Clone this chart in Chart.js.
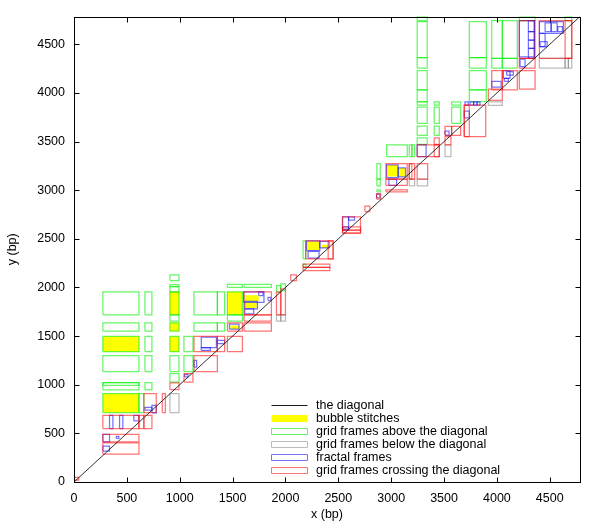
<!DOCTYPE html>
<html><head><meta charset="utf-8">
<script src="https://cdn.jsdelivr.net/npm/chart.js@4.4.1/dist/chart.umd.min.js"></script>
<style>html,body{margin:0;padding:0;background:#fff}#wrap{width:600px;height:522px;position:relative}</style>
</head><body><div id="wrap"><canvas id="c" width="600" height="522"></canvas></div>
<script>
// ---------- data (bp) : each rectangle is [x1, x2, y1, y2] ----------
const axisMax = 4786;
const tickValues = [0, 500, 1000, 1500, 2000, 2500, 3000, 3500, 4000, 4500];
const diagonalLine = [[0, 0], [4786, 4786]];

const bubbleStitches = [
  [273,614,1340,1496],[273,614,714,909],[907,993,1719,1955],[907,993,1551,1637],
  [907,993,1340,1496],[1451,1593,1719,1955],[1615,1747,1858,1920],[1621,1728,1787,1848],
  [1479,1561,1571,1609],[2205,2318,2385,2473],[2341,2404,2406,2440],
  [2966,3066,3140,3260],[3066,3130,3140,3229]
];

const gridAbove = [
  [273,614,1719,1955],[671,737,1719,1955],[1135,1356,1719,1955],[1356,1425,1719,1955],
  [273,614,1551,1637],[671,737,1551,1637],[1135,1356,1551,1637],[1356,1425,1551,1637],
  [273,614,1340,1496],[671,737,1340,1496],[1040,1125,1340,1496],
  [273,614,1135,1299],[671,737,1135,1299],[907,993,1135,1299],[1040,1125,1135,1299],
  [907,993,1028,1114],
  [273,614,946,1022],[273,614,994,1022],[671,737,946,1022],
  [273,614,714,909],[614,661,714,909],
  [907,993,2071,2129],[907,993,2009,2030],[907,993,1955,2009],
  [907,993,1719,1955],[907,993,1653,1719],[907,993,1551,1637],[907,993,1340,1496],
  [1451,1593,2002,2033],[1451,1593,1719,1955],[1451,1593,1653,1719],
  [1608,1867,2002,2033],
  [1915,1956,1955,2020],[1956,2000,1968,2037],
  [2167,2192,2293,2480],[2167,2192,2207,2241],
  [2865,2897,3113,3273],[2865,2897,3044,3113],[2865,2897,2983,3003],
  [2957,3152,3345,3465],[3171,3196,3345,3465],[3196,3222,3345,3465],
  [3246,3341,4743,4786],[3246,3341,4363,4733],[3246,3341,4254,4363],[3246,3341,4031,4230],
  [3246,3341,3912,4031],[3246,3341,3874,3908],[3246,3341,3687,3854],[3246,3341,3564,3659],
  [3246,3341,3470,3539],
  [3407,3455,3874,3908],[3407,3455,3687,3854],[3407,3455,3564,3659],
  [3572,3657,3874,3908],[3572,3657,3687,3854],
  [3739,3900,4363,4733],[3739,3900,4254,4363],[3739,3900,4031,4230],[3739,3900,3912,4031],
  [3951,4051,4356,4743],[3951,4051,4254,4356],
  [4051,4193,4356,4743],[4051,4193,4254,4356],
  [4212,4361,4743,4786],[4645,4708,4743,4786]
];

const gridBelow = [
  [907,993,714,909],
  [1915,1956,1653,1719],[1956,2000,1653,1719],
  [3171,3222,3044,3113],[3246,3345,3044,3113],
  [3509,3565,3345,3465],
  [3919,4051,3871,3908],
  [4402,4645,4254,4356],[4645,4676,4254,4356],[4676,4708,4254,4356]
];

const fractalFrames = [
  [336,368,550,684],[431,462,550,684],[566,614,628,684],
  [273,336,413,489],[400,424,448,468],[273,336,318,369],
  [671,737,738,766],[737,778,710,789],
  [1046,1078,1080,1107],[1135,1160,1182,1250],
  [1204,1347,1381,1489],[1204,1290,1353,1381],[1356,1425,1422,1455],
  [1470,1561,1571,1623],
  [1605,1797,1848,1955],[1615,1735,1780,1858],[1615,1700,1729,1780],[1747,1788,1917,1955],[1835,1861,1866,1899],
  [2199,2325,2378,2480],[2325,2413,2406,2473],[2214,2318,2303,2371],
  [2597,2653,2693,2727],[2540,2597,2600,2727],[2540,2597,2590,2624],
  [2862,2893,2920,2959],
  [2957,3066,3129,3260],[3066,3136,3137,3229],[2978,3051,3051,3113],
  [3246,3330,3345,3465],
  [3509,3547,3564,3608],
  [3691,3739,3744,3813],[3698,3729,3871,3908],[3745,3780,3874,3908],[3780,3812,3874,3908],[3812,3840,3874,3908],
  [3951,4040,4059,4120],[4061,4124,4151,4230],[4092,4155,4182,4220],[4070,4108,4120,4151],
  [4298,4354,4630,4743],[4298,4354,4544,4630],[4298,4354,4459,4544],[4298,4354,4356,4459],[4212,4354,4370,4743],
  [4219,4266,4271,4349],
  [4402,4629,4612,4733],[4456,4513,4630,4720],[4513,4570,4630,4720],[4576,4620,4630,4681],
  [4402,4456,4476,4612],[4408,4475,4476,4527]
];

const gridCrossing = [
  [0,45,20,48],
  [273,614,287,403],[273,614,413,489],[273,614,550,684],[614,661,550,684],[661,737,550,684],
  [661,778,714,909],[835,864,714,909],
  [907,993,950,1018],
  [1040,1125,1028,1114],
  [1135,1356,1340,1496],[1356,1425,1340,1496],[1135,1356,1135,1299],
  [1451,1593,1340,1496],[1451,1593,1551,1637],
  [1608,1867,1551,1637],[1608,1867,1653,1719],[1608,1867,1719,1955],
  [1915,1956,1719,1951],[1956,2000,1719,1985],
  [2050,2104,2071,2129],
  [2192,2451,2293,2480],[2404,2451,2293,2480],
  [2167,2420,2207,2241],[2167,2420,2173,2207],
  [2540,2710,2559,2727],[2540,2710,2590,2624],[2540,2710,2559,2590],
  [2751,2798,2781,2836],
  [2862,2900,2908,2965],
  [2950,3152,3113,3273],[2950,3152,3051,3113],[2950,3152,2983,3003],
  [3171,3222,3113,3273],[3171,3196,3113,3273],
  [3246,3345,3113,3273],
  [3246,3455,3345,3465],[3407,3455,3345,3465],
  [3407,3455,3470,3539],
  [3509,3565,3465,3550],
  [3509,3572,3564,3656],[3572,3657,3564,3656],
  [3691,3894,3550,3874],[3691,3739,3550,3874],
  [3951,4051,4031,4230],[4051,4193,4031,4230],
  [3919,4051,3923,4039],
  [4212,4361,4356,4743],[4212,4361,4254,4356],[4212,4361,4040,4230],
  [4402,4708,4356,4743],[4645,4708,4356,4743]
];

const seriesLabels = [
  'the diagonal',
  'bubble stitches',
  'grid frames above the diagonal',
  'grid frames below the diagonal',
  'fractal frames',
  'grid frames crossing the diagonal'
];
const seriesColors = ['#1a1a1a', '#ffff00', 'rgba(0,240,0,0.6)', 'rgba(120,120,120,0.5)', 'rgba(0,0,255,0.55)', 'rgba(255,0,0,0.55)'];
const legendColors = ['#1a1a1a', '#ffff00', '#66f266', '#bdbdbd', '#7373ff', '#ff7373'];

// ---------- build datasets ----------
function rectPoints(r) {
  return [{x:r[0],y:r[2]},{x:r[1],y:r[2]},{x:r[1],y:r[3]},{x:r[0],y:r[3]},{x:r[0],y:r[2]}];
}
const base = {pointRadius:0, pointHoverRadius:0, pointHitRadius:0, tension:0, borderWidth:1.25};
const datasets = [];
datasets.push(Object.assign({}, base, {label: seriesLabels[0],
  data: diagonalLine.map(p => ({x:p[0], y:p[1]})), borderColor: seriesColors[0], fill:false, borderWidth:0.9}));
[[gridCrossing,5],[fractalFrames,4],[gridBelow,3],[gridAbove,2]].forEach(([rects, k]) => {
  rects.forEach(r => datasets.push(Object.assign({}, base, {label: seriesLabels[k],
    data: rectPoints(r), borderColor: seriesColors[k], fill:false})));
});
bubbleStitches.forEach(r => datasets.push(Object.assign({}, base, {label: seriesLabels[1],
  data: rectPoints(r), borderColor:'rgba(0,0,0,0)', borderWidth:0, backgroundColor: seriesColors[1], fill:'shape'})));

// ---------- frame, inward ticks, legend ----------
const framePlugin = {
  id: 'frame',
  afterDatasetsDraw(chart) {
    const {ctx, chartArea: a, scales} = chart;
    const xs = scales.x, ys = scales.y;
    ctx.save();
    ctx.strokeStyle = '#000';
    ctx.lineWidth = 1;
    const L = Math.round(a.left) + 0.5, R = Math.round(a.right) + 0.5;
    const T = Math.round(a.top) + 0.5, B = Math.round(a.bottom) + 0.5;
    ctx.strokeRect(L, T, R - L, B - T);
    ctx.beginPath();
    tickValues.forEach(v => {
      const px = Math.round(xs.getPixelForValue(v)) + 0.5;
      ctx.moveTo(px, B); ctx.lineTo(px, B - 5);
      ctx.moveTo(px, T); ctx.lineTo(px, T + 5);
      const py = Math.round(ys.getPixelForValue(v)) + 0.5;
      ctx.moveTo(L, py); ctx.lineTo(L + 5, py);
      ctx.moveTo(R, py); ctx.lineTo(R - 5, py);
    });
    ctx.stroke();
    // legend
    const sx1 = Math.round(a.right) - 308.5, sw = 36;
    ctx.font = '12.5px "Liberation Sans", Arial, sans-serif';
    ctx.textBaseline = 'middle';
    ctx.textAlign = 'left';
    seriesLabels.forEach((lab, i) => {
      const yy = Math.round(a.bottom - 77 + i * 12.95) + 0.5;
      ctx.lineWidth = 1;
      if (i === 0) {
        ctx.strokeStyle = legendColors[0];
        ctx.beginPath(); ctx.moveTo(sx1, yy); ctx.lineTo(sx1 + sw, yy); ctx.stroke();
      } else if (i === 1) {
        ctx.fillStyle = legendColors[1];
        ctx.fillRect(sx1, yy - 3.5, sw, 7);
      } else {
        ctx.strokeStyle = legendColors[i];
        ctx.beginPath();
        ctx.rect(sx1, yy - 3, sw, 6);
        ctx.stroke();
      }
      ctx.fillStyle = '#000';
      ctx.fillText(lab, Math.round(a.right) - 264, yy + 0.5);
    });
    ctx.restore();
  }
};

const fontFam = '"Liberation Sans", Arial, Helvetica, sans-serif';
Chart.defaults.font.family = fontFam;
Chart.defaults.color = '#000';

new Chart(document.getElementById('c'), {
  type: 'line',
  data: {datasets},
  options: {
    responsive: false,
    animation: false,
    events: [],
    layout: {padding: {top: 15, right: 20, left: 0, bottom: 0}},
    plugins: {legend: {display: false}, tooltip: {enabled: false}},
    scales: {
      x: {
        type: 'linear', min: 0, max: axisMax,
        afterBuildTicks: s => { s.ticks = tickValues.map(v => ({value: v})); },
        afterFit: s => { s.height = 40; },
        grid: {display: false, drawTicks: false},
        border: {display: false},
        ticks: {padding: 9, color: '#000', font: {size: 12.5}, maxRotation: 0, autoSkip: false,
                callback: v => String(v)},
        title: {display: true, text: 'x (bp)', color: '#000', font: {size: 12.5}, padding: {top: 0, bottom: 0}}
      },
      y: {
        type: 'linear', min: 0, max: axisMax,
        afterBuildTicks: s => { s.ticks = tickValues.map(v => ({value: v})); },
        afterFit: s => { s.width = 74; },
        grid: {display: false, drawTicks: false},
        border: {display: false},
        ticks: {padding: 9, color: '#000', font: {size: 12.5}, autoSkip: false,
                callback: v => String(v)},
        title: {display: true, text: 'y (bp)', color: '#000', font: {size: 12.5}, padding: {top: 5.5, bottom: 0}}
      }
    }
  },
  plugins: [framePlugin]
});
</script>
</body></html>
